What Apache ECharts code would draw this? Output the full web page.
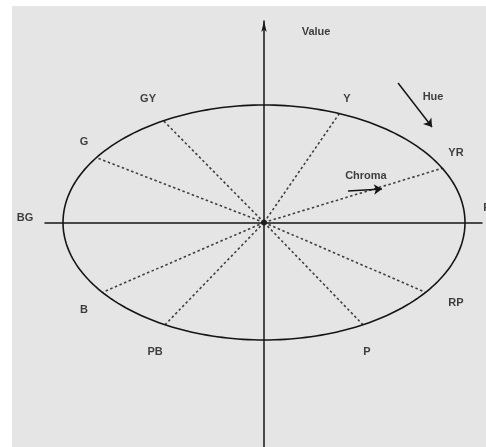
<!DOCTYPE html>
<html>
<head>
<meta charset="utf-8">
<script src="https://cdn.jsdelivr.net/npm/echarts@6/dist/echarts.min.js"></script>
<style>
html,body{margin:0;padding:0;background:#fff;}
#c{width:486px;height:447px;}
</style>
</head>
<body>
<div id="c"></div>
<script>
// Hue spokes: name and angle (degrees, around the neutral axis)
const hueNames  = ['YR', 'Y', 'GY', 'G', 'B', 'PB', 'P', 'RP'];
const hueAngles = [27.5, 68, 120, 146.5, 216.5, 240.5, 299.5, 323.5];

// Text labels (name, chroma-x, value-y)
const labelNames = ['GY', 'Y', 'G', 'YR', 'B', 'RP', 'PB', 'P', 'BG', 'R', 'Value', 'Hue', 'Chroma'];
const labelX     = [-0.577, 0.413, -0.896, 0.955, -0.896, 0.955, -0.542, 0.512, -1.189, 1.11, 0.259, 0.841, 0.507];
const labelY     = [1.049, 1.055, 0.685, 0.591, -0.745, -0.685, -1.106, -1.102, 0.038, 0.123, 1.621, 1.068, 0.396];

// Arrows (from -> to)
const hueArrow    = [[0.667, 1.187], [0.836, 0.813]];
const chromaArrow = [[0.418, 0.268], [0.587, 0.285]];

// Neutral point
const neutral = [[0, 0]];

// Axis extents
const xMin = -1.0896, xMax = 1.0846;
const yMin = -1.911, yMax = 1.715;

const ink = '#151515';

const spokes = hueAngles.map(a => ({
  coords: [[0, 0], [Math.cos(a * Math.PI / 180), Math.sin(a * Math.PI / 180)]]
}));

const chart = echarts.init(document.getElementById('c'), null, {renderer: 'canvas'});
chart.setOption({
  animation: false,
  backgroundColor: '#ffffff',
  graphic: [{
    type: 'rect', left: 12, top: 6, z: -100,
    shape: {width: 474, height: 441},
    style: {fill: '#e5e5e5'}
  }],
  grid: {left: 45, right: 4, top: 21, bottom: 0},
  xAxis: {
    type: 'value', min: xMin, max: xMax,
    axisLine: {onZero: true, lineStyle: {color: ink, width: 1.5}},
    axisTick: {show: false}, axisLabel: {show: false}, splitLine: {show: false}
  },
  yAxis: {
    type: 'value', min: yMin, max: yMax,
    axisLine: {onZero: true, symbol: ['none', 'arrow'], symbolSize: [4, 11],
      lineStyle: {color: ink, width: 1.5}},
    axisTick: {show: false}, axisLabel: {show: false}, splitLine: {show: false}
  },
  series: [
    {
      type: 'lines', coordinateSystem: 'cartesian2d', z: 3,
      lineStyle: {color: '#404040', width: 1.6, type: [2.5, 2.5], opacity: 1},
      data: spokes
    },
    {
      type: 'custom', z: 4,
      data: [[0, 0]],
      renderItem: function (params, api) {
        const c = api.coord([0, 0]);
        const e = api.coord([1, 1]);
        const rx = e[0] - c[0], ry = c[1] - e[1];
        const pts = [];
        for (let i = 0; i <= 240; i++) {
          const t = i / 240 * Math.PI * 2;
          pts.push([c[0] + rx * Math.cos(t), c[1] - ry * Math.sin(t)]);
        }
        return {type: 'polyline', shape: {points: pts},
          style: {fill: 'none', stroke: ink, lineWidth: 1.6}};
      }
    },
    {
      type: 'lines', coordinateSystem: 'cartesian2d', z: 5,
      symbol: ['none', 'arrow'], symbolSize: [5, 8],
      lineStyle: {color: ink, width: 1.5, opacity: 1},
      data: [{coords: hueArrow}, {coords: chromaArrow}]
    },
    {
      type: 'scatter', z: 5, symbol: 'circle', symbolSize: 6, clip: false,
      itemStyle: {color: ink},
      data: neutral
    },
    {
      type: 'scatter', z: 6, symbolSize: 0, clip: false,
      label: {show: true, position: 'inside', formatter: p => p.name,
        color: '#111', fontFamily: 'Liberation Sans, Arial, sans-serif',
        fontWeight: 'bold', fontSize: 11},
      data: labelNames.map((n, i) => ({name: n, value: [labelX[i], labelY[i]]}))
    }
  ]
});
</script>
</body>
</html>
